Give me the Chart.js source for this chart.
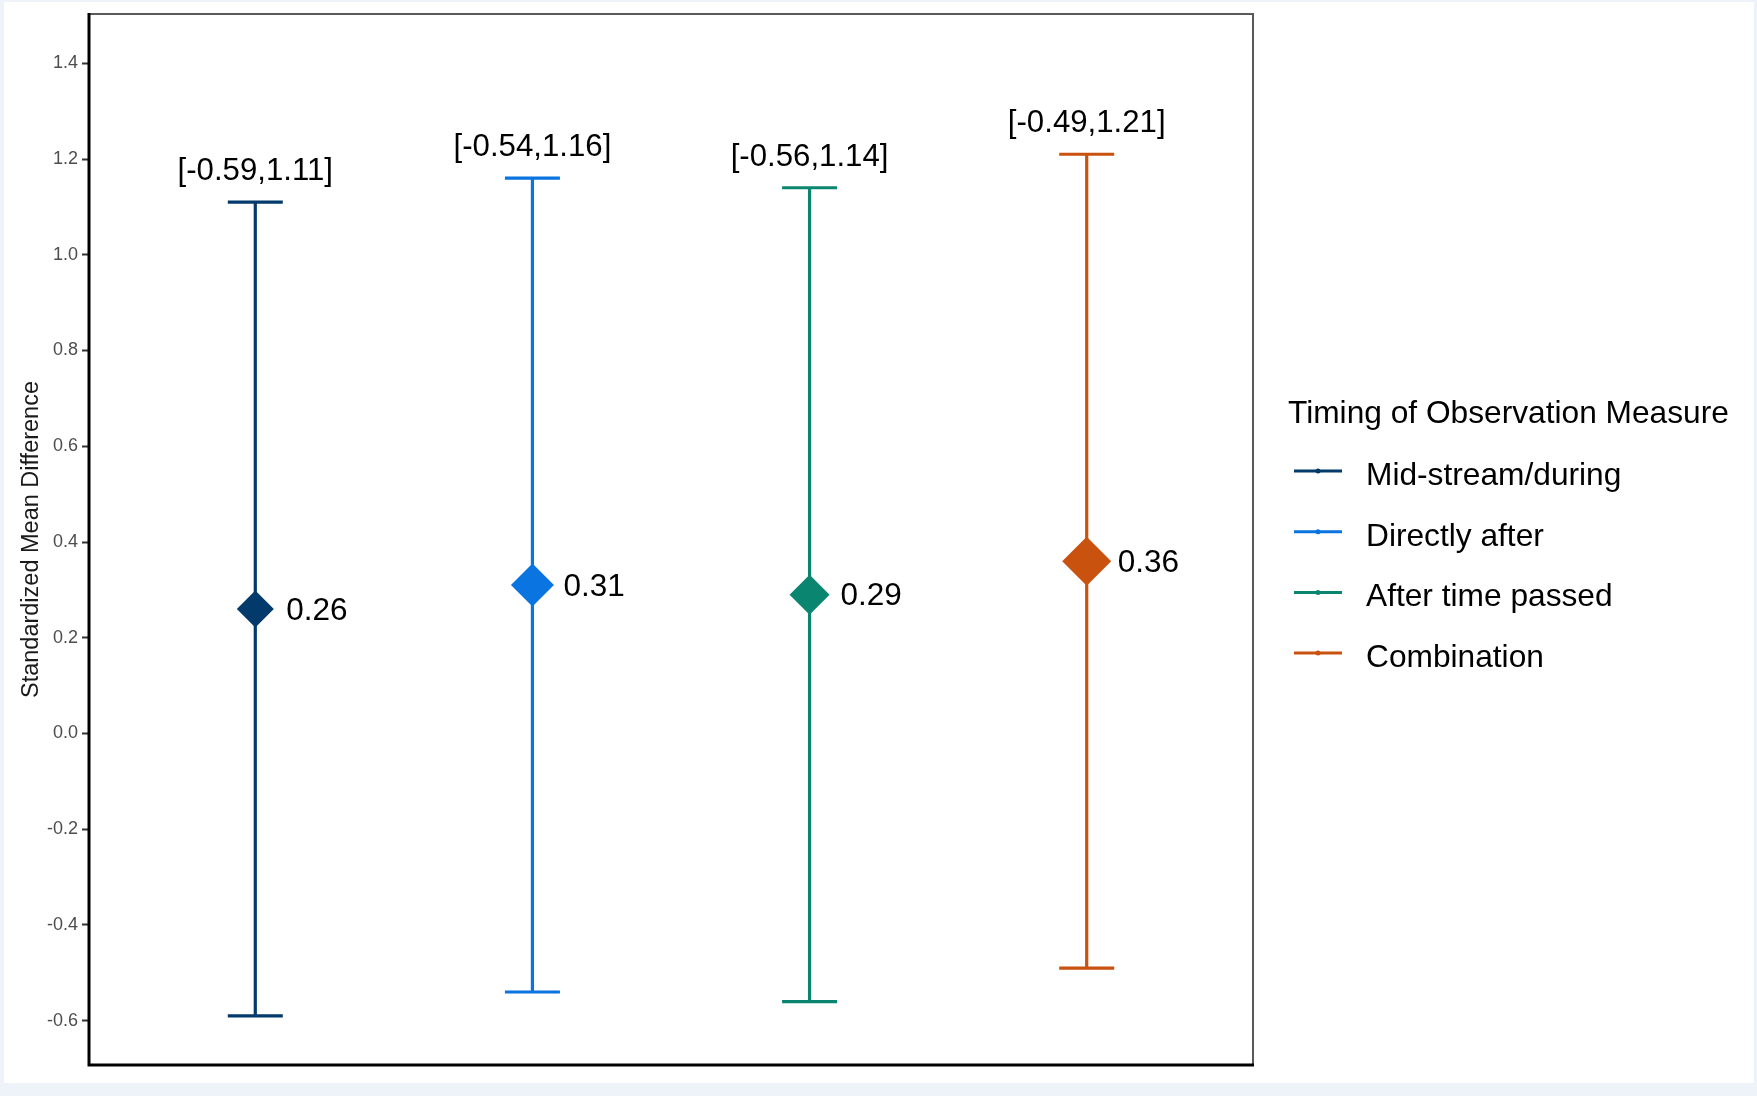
<!DOCTYPE html>
<html>
<head>
<meta charset="utf-8">
<script src="https://cdn.jsdelivr.net/npm/chart.js@4.4.0/dist/chart.umd.min.js"></script>
<style>
  html, body { margin: 0; padding: 0; background: #eef2f9; overflow: hidden; }
  #wrap { width: 1757px; height: 1096px; }
</style>
</head>
<body>
<div id="wrap"><canvas id="smdChart" width="1757" height="1096"></canvas></div>
<script>
// values
const groups = ['Mid-stream/during', 'Directly after', 'After time passed', 'Combination'];
const groupPos = [1, 2, 3, 4];
const smd = [0.26, 0.31, 0.29, 0.36];
const ciLower = [-0.59, -0.54, -0.56, -0.49];
const ciUpper = [1.11, 1.16, 1.14, 1.21];
const yTicks = [-0.6, -0.4, -0.2, 0.0, 0.2, 0.4, 0.6, 0.8, 1.0, 1.2, 1.4];

const colors = ['#033a6c', '#0a74e0', '#0a8670', '#c9520f'];
const diamondRadius = [18.5, 21.5, 20, 24.5];
const FONT = '"Liberation Sans", Arial, sans-serif';

// light page frame + white panel
const pageFrame = {
    id: 'pageFrame',
    beforeDraw(chart) {
        const ctx = chart.ctx;
        ctx.save();
        ctx.fillStyle = '#eef2f9';
        ctx.fillRect(0, 0, chart.width, chart.height);
        ctx.fillStyle = '#ffffff';
        ctx.fillRect(4, 2, 1750, 1081);
        ctx.restore();
    }
};

// whiskers, caps and the interval labels
const errorBars = {
    id: 'errorBars',
    beforeDatasetsDraw(chart) {
        const ctx = chart.ctx;
        const xs = chart.scales.x;
        const ys = chart.scales.y;
        ctx.save();
        groupPos.forEach((g, i) => {
            const x = xs.getPixelForValue(g);
            const yLo = ys.getPixelForValue(ciLower[i]);
            const yHi = ys.getPixelForValue(ciUpper[i]);
            ctx.strokeStyle = colors[i];
            ctx.lineWidth = 3.2;
            ctx.beginPath();
            ctx.moveTo(x, yLo);
            ctx.lineTo(x, yHi);
            ctx.moveTo(x - 27.5, yLo);
            ctx.lineTo(x + 27.5, yLo);
            ctx.moveTo(x - 27.5, yHi);
            ctx.lineTo(x + 27.5, yHi);
            ctx.stroke();

            ctx.fillStyle = '#000';
            ctx.font = '31.2px ' + FONT;
            ctx.textAlign = 'center';
            ctx.textBaseline = 'alphabetic';
            ctx.fillText('[' + ciLower[i].toFixed(2) + ',' + ciUpper[i].toFixed(2) + ']', x, yHi - 22);
        });
        ctx.restore();
    },
    afterDatasetsDraw(chart) {
        const ctx = chart.ctx;
        const xs = chart.scales.x;
        const ys = chart.scales.y;
        ctx.save();
        ctx.fillStyle = '#000';
        ctx.font = '31.5px ' + FONT;
        ctx.textAlign = 'left';
        ctx.textBaseline = 'middle';
        groupPos.forEach((g, i) => {
            ctx.fillText(smd[i].toFixed(2), xs.getPixelForValue(g) + 31, ys.getPixelForValue(smd[i]) + 2);
        });
        ctx.restore();
    }
};

// panel border: grey box, black left/bottom axis lines
const panelBorder = {
    id: 'panelBorder',
    afterDraw(chart) {
        const {ctx, chartArea: a} = chart;
        ctx.save();
        ctx.strokeStyle = '#5a5a5a';
        ctx.lineWidth = 2;
        ctx.strokeRect(a.left, a.top, a.right - a.left, a.bottom - a.top);
        ctx.strokeStyle = '#000';
        ctx.lineWidth = 3;
        ctx.beginPath();
        ctx.moveTo(a.left, a.top - 1);
        ctx.lineTo(a.left, a.bottom);
        ctx.lineTo(a.right + 1, a.bottom);
        ctx.stroke();
        ctx.restore();
    }
};

// legend on the right, drawn like the ggplot key
const sideLegend = {
    id: 'sideLegend',
    afterDraw(chart) {
        const ctx = chart.ctx;
        ctx.save();
        ctx.fillStyle = '#000';
        ctx.textAlign = 'left';
        ctx.textBaseline = 'alphabetic';
        ctx.font = '31.7px ' + FONT;
        ctx.fillText('Timing of Observation Measure', 1288, 423);
        groups.forEach((name, i) => {
            const yLine = 471 + i * 60.7;
            ctx.strokeStyle = colors[i];
            ctx.lineWidth = 3;
            ctx.beginPath();
            ctx.moveTo(1294, yLine);
            ctx.lineTo(1342, yLine);
            ctx.stroke();
            ctx.fillStyle = colors[i];
            ctx.beginPath();
            ctx.arc(1318, yLine, 2.5, 0, Math.PI * 2);
            ctx.fill();
            ctx.fillStyle = '#000';
            ctx.fillText(name, 1366, 485 + i * 60.7);
        });
        ctx.restore();
    }
};

const datasets = groups.map((name, i) => ({
    label: name,
    data: [{ x: groupPos[i], y: smd[i] }],
    pointStyle: 'rectRot',
    pointRadius: diamondRadius[i],
    pointHoverRadius: diamondRadius[i],
    backgroundColor: colors[i],
    borderColor: colors[i],
    borderWidth: 0
}));

new Chart(document.getElementById('smdChart').getContext('2d'), {
    type: 'scatter',
    data: { datasets: datasets },
    options: {
        responsive: false,
        animation: false,
        devicePixelRatio: 1,
        events: [],
        layout: { autoPadding: false, padding: { left: 0, right: 504, top: 14, bottom: 31 } },
        plugins: {
            legend: { display: false },
            tooltip: { enabled: false }
        },
        scales: {
            x: {
                type: 'linear',
                min: 0.4,
                max: 4.6,
                display: false
            },
            y: {
                type: 'linear',
                min: -0.6925,
                max: 1.503,
                afterBuildTicks: (scale) => {
                    scale.ticks = yTicks.map(v => ({ value: v }));
                },
                afterFit: (scale) => {
                    scale.width = 89;
                    scale.paddingTop = 0;
                    scale.paddingBottom = 0;
                },
                ticks: {
                    color: '#4d4d4d',
                    font: { family: FONT, size: 18 },
                    padding: 4,
                    callback: (v) => Number(v).toFixed(1)
                },
                grid: {
                    drawOnChartArea: false,
                    drawTicks: true,
                    tickLength: 7,
                    tickColor: '#333',
                    tickWidth: 2
                },
                border: { display: false },
                title: {
                    display: true,
                    text: 'Standardized Mean Difference',
                    color: '#1a1a1a',
                    font: { family: FONT, size: 23.5 },
                    padding: { top: 17, bottom: 0 }
                }
            }
        }
    },
    plugins: [pageFrame, errorBars, panelBorder, sideLegend]
});
</script>
</body>
</html>
